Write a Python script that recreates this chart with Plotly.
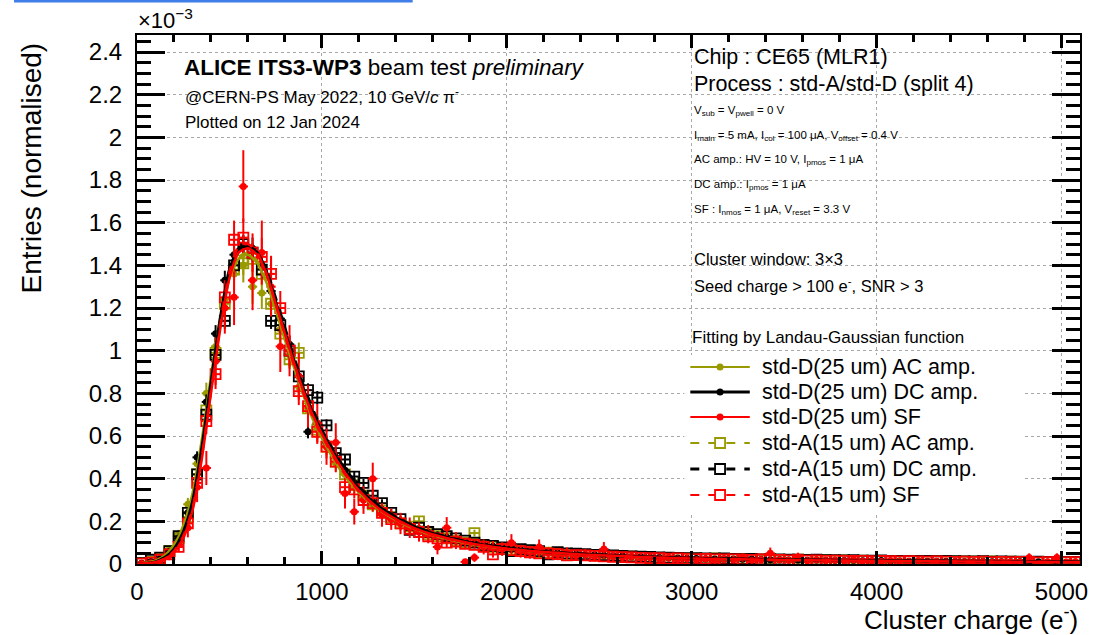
import plotly.graph_objects as go

# ---------------- data (y in units of 1e-3) ----------------
bin_centers = [
    25, 75, 125, 175, 225, 275, 325, 375, 425, 475,
    525, 575, 625, 675, 725, 775, 825, 875, 925, 975,
    1025, 1075, 1125, 1175, 1225, 1275, 1325, 1375, 1425, 1475,
    1525, 1575, 1625, 1675, 1725, 1775, 1825, 1875, 1925, 1975,
    2025, 2075, 2125, 2175, 2225, 2275, 2325, 2375, 2425, 2475,
    2525, 2575, 2625, 2675, 2725, 2775, 2825, 2875, 2925, 2975,
    3025, 3075, 3125, 3175, 3225, 3275, 3325, 3375, 3425, 3475,
    3525, 3575, 3625, 3675, 3725, 3775, 3825, 3875, 3925, 3975,
    4025, 4075, 4125, 4175, 4225, 4275, 4325, 4375, 4425, 4475,
    4525, 4575, 4625, 4675, 4725, 4775, 4825, 4875, 4925, 4975,
    5025, 5075]
bin_half_width = 25

stdD_AC = [
    0.004, 0.012, 0.030, 0.070, 0.14, 0.28, 0.47, 0.80, 1.02, 1.24,
    1.36, 1.40, 1.30, 1.27, 1.22, 1.10, 0.98, 0.83, 0.72, 0.63,
    0.55, 0.47, 0.42, 0.36, 0.31, 0.27, 0.24, 0.21, 0.185, 0.17,
    0.15, 0.14, 0.125, 0.115, 0.105, 0.097, 0.090, 0.083, 0.078, 0.072,
    0.067, 0.063, 0.058, 0.055, 0.052, 0.049, 0.046, 0.044, 0.042, 0.040,
    0.038, 0.036, 0.035, 0.033, 0.031, 0.030, 0.029, 0.027, 0.026, 0.025,
    0.024, 0.022, 0.024, 0.021, 0.020, 0.022, 0.019, 0.020, 0.018, 0.019,
    0.017, 0.018, 0.016, 0.017, 0.015, 0.016, 0.014, 0.015, 0.014, 0.013,
    0.014, 0.012, 0.013, 0.012, 0.013, 0.011, 0.012, 0.011, 0.010, 0.012,
    0.010, 0.011, 0.009, 0.010, 0.009, 0.010, 0.008, 0.009, 0.008, 0.009,
    0.008, 0.008]
stdD_DC = [
    0.003, 0.010, 0.025, 0.060, 0.12, 0.24, 0.50, 0.76, 1.08, 1.33,
    1.45, 1.49, 1.48, 1.40, 1.28, 1.15, 1.03, 0.88, 0.62, 0.66,
    0.57, 0.50, 0.44, 0.38, 0.33, 0.29, 0.255, 0.225, 0.20, 0.18,
    0.165, 0.148, 0.135, 0.125, 0.114, 0.105, 0.097, 0.090, 0.083, 0.078,
    0.072, 0.068, 0.064, 0.060, 0.056, 0.053, 0.050, 0.047, 0.045, 0.043,
    0.041, 0.039, 0.037, 0.035, 0.034, 0.032, 0.031, 0.030, 0.028, 0.027,
    0.026, 0.025, 0.024, 0.025, 0.023, 0.022, 0.023, 0.021, 0.020, 0.021,
    0.019, 0.019, 0.018, 0.019, 0.017, 0.017, 0.016, 0.017, 0.015, 0.015,
    0.016, 0.014, 0.014, 0.013, 0.014, 0.013, 0.012, 0.013, 0.012, 0.011,
    0.011, 0.012, 0.010, 0.011, 0.010, 0.010, 0.009, 0.010, 0.009, 0.009,
    0.008, 0.009]
stdD_SF = [
    0.002, 0.006, 0.015, 0.040, 0.09, 0.17, 0.36, 0.45, 0.95, 1.20,
    1.25, 1.77, 1.33, 1.46, 1.30, 1.02, 1.00, 0.88, 0.74, 0.66,
    0.55, 0.57, 0.33, 0.245, 0.30, 0.40, 0.23, 0.21, 0.19, 0.17,
    0.15, 0.14, 0.08, 0.17, 0.11, 0.01, 0.03, 0.08, 0.075, 0.07,
    0.10, 0.06, 0.055, 0.08, 0.05, 0.045, 0.05, 0.04, 0.045, 0.035,
    0.07, 0.035, 0.03, 0.035, 0.028, 0.03, 0.025, 0.03, 0.022, 0.025,
    0.02, 0.025, 0.018, 0.022, 0.02, 0.03, 0.018, 0.02, 0.05, 0.02,
    0.018, 0.033, 0.015, 0.02, 0.016, 0.018, 0.015, 0.02, 0.014, 0.015,
    0.012, 0.016, 0.013, 0.012, 0.015, 0.011, 0.013, 0.01, 0.012, 0.011,
    0.01, 0.012, 0.009, 0.011, 0.01, 0.009, 0.03, 0.002, 0.01, 0.03,
    0.008, 0.01]
stdA_AC = [
    0.004, 0.010, 0.025, 0.060, 0.12, 0.22, 0.42, 0.72, 0.99, 1.22,
    1.38, 1.41, 1.43, 1.36, 1.22, 1.08, 0.96, 0.99, 0.73, 0.63,
    0.55, 0.48, 0.42, 0.37, 0.32, 0.28, 0.25, 0.22, 0.19, 0.175,
    0.20, 0.14, 0.13, 0.12, 0.11, 0.10, 0.145, 0.085, 0.080, 0.073,
    0.068, 0.064, 0.060, 0.056, 0.053, 0.050, 0.047, 0.045, 0.043, 0.041,
    0.039, 0.037, 0.035, 0.034, 0.032, 0.031, 0.029, 0.028, 0.027, 0.026,
    0.025, 0.024, 0.026, 0.023, 0.022, 0.024, 0.021, 0.020, 0.022, 0.019,
    0.019, 0.020, 0.018, 0.017, 0.018, 0.016, 0.017, 0.015, 0.016, 0.015,
    0.014, 0.015, 0.013, 0.014, 0.013, 0.012, 0.014, 0.012, 0.011, 0.012,
    0.011, 0.010, 0.012, 0.010, 0.011, 0.009, 0.010, 0.009, 0.010, 0.009,
    0.009, 0.008]
stdA_DC = [
    0.004, 0.020, 0.030, 0.060, 0.13, 0.24, 0.42, 0.70, 0.98, 1.14,
    1.40, 1.50, 1.46, 1.38, 1.14, 1.12, 1.00, 0.88, 0.815, 0.78,
    0.65, 0.52, 0.49, 0.41, 0.38, 0.32, 0.285, 0.24, 0.21, 0.16,
    0.17, 0.15, 0.14, 0.13, 0.12, 0.11, 0.10, 0.090, 0.085, 0.078,
    0.060, 0.070, 0.065, 0.060, 0.045, 0.055, 0.050, 0.048, 0.046, 0.043,
    0.041, 0.040, 0.038, 0.036, 0.034, 0.033, 0.031, 0.030, 0.029, 0.028,
    0.027, 0.026, 0.025, 0.026, 0.024, 0.023, 0.024, 0.022, 0.021, 0.022,
    0.020, 0.020, 0.019, 0.020, 0.018, 0.018, 0.017, 0.018, 0.016, 0.016,
    0.017, 0.015, 0.015, 0.014, 0.015, 0.014, 0.013, 0.014, 0.013, 0.012,
    0.012, 0.013, 0.011, 0.012, 0.011, 0.011, 0.010, 0.011, 0.010, 0.010,
    0.009, 0.010]
stdA_SF = [
    0.002, 0.006, 0.020, 0.045, 0.08, 0.19, 0.38, 0.67, 0.89, 1.25,
    1.52, 1.53, 1.46, 1.44, 1.36, 1.20, 1.00, 0.81, 0.74, 0.62,
    0.55, 0.48, 0.36, 0.35, 0.30, 0.285, 0.24, 0.21, 0.19, 0.165,
    0.15, 0.13, 0.12, 0.10, 0.105, 0.095, 0.090, 0.080, 0.045, 0.070,
    0.065, 0.060, 0.055, 0.050, 0.050, 0.046, 0.040, 0.042, 0.040, 0.038,
    0.036, 0.034, 0.032, 0.031, 0.029, 0.028, 0.027, 0.025, 0.026, 0.024,
    0.023, 0.024, 0.022, 0.021, 0.022, 0.020, 0.019, 0.021, 0.018, 0.019,
    0.017, 0.018, 0.016, 0.017, 0.015, 0.016, 0.015, 0.014, 0.015, 0.013,
    0.014, 0.013, 0.012, 0.013, 0.012, 0.011, 0.012, 0.011, 0.010, 0.011,
    0.010, 0.011, 0.009, 0.010, 0.009, 0.010, 0.009, 0.008, 0.009, 0.008,
    0.008, 0.009]

err_stdD_AC = [
    0.003, 0.006, 0.01, 0.015, 0.02, 0.03, 0.04, 0.05, 0.06, 0.07,
    0.075, 0.08, 0.08, 0.075, 0.07, 0.065, 0.06, 0.055, 0.05, 0.045,
    0.04, 0.037, 0.034, 0.031, 0.029, 0.027, 0.025, 0.023, 0.021, 0.02,
    0.019, 0.018, 0.017, 0.016, 0.015, 0.014, 0.014, 0.013, 0.013, 0.012,
    0.012, 0.011, 0.011, 0.011, 0.01, 0.01, 0.01, 0.01, 0.009, 0.009,
    0.009, 0.009, 0.009, 0.008, 0.008, 0.008, 0.008, 0.008, 0.008, 0.008]
err_stdD_DC = [
    0.002, 0.004, 0.006, 0.01, 0.014, 0.02, 0.028, 0.035, 0.04, 0.045,
    0.05, 0.05, 0.05, 0.048, 0.045, 0.042, 0.04, 0.037, 0.031, 0.032,
    0.029, 0.027, 0.025, 0.023, 0.021, 0.02, 0.018, 0.017, 0.016, 0.015,
    0.014, 0.013, 0.013, 0.012, 0.012, 0.011, 0.011, 0.01, 0.01, 0.01,
    0.009, 0.009, 0.009, 0.008, 0.008, 0.008, 0.008, 0.007, 0.007, 0.007,
    0.007, 0.007, 0.007, 0.006, 0.006, 0.006, 0.006, 0.006, 0.006, 0.006]
err_stdD_SF = [
    0.004, 0.008, 0.013, 0.022, 0.034, 0.045, 0.07, 0.08, 0.11, 0.12,
    0.13, 0.17, 0.14, 0.15, 0.14, 0.12, 0.12, 0.11, 0.10, 0.09,
    0.085, 0.09, 0.07, 0.06, 0.065, 0.075, 0.055, 0.05, 0.05, 0.048,
    0.045, 0.043, 0.035, 0.05, 0.04, 0.01, 0.02, 0.035, 0.033, 0.032,
    0.04, 0.03, 0.03, 0.035, 0.028, 0.027, 0.028, 0.025, 0.026, 0.023,
    0.033, 0.023, 0.021, 0.023, 0.02, 0.021, 0.019, 0.021, 0.018, 0.019,
    0.017, 0.019, 0.016, 0.018, 0.017, 0.02, 0.016, 0.017, 0.027, 0.017,
    0.016, 0.02, 0.015, 0.017, 0.015, 0.016, 0.015, 0.017, 0.014, 0.015,
    0.013, 0.015, 0.014, 0.013, 0.015, 0.012, 0.013, 0.012, 0.013, 0.012,
    0.012, 0.013, 0.011, 0.012, 0.012, 0.011, 0.02, 0.005, 0.012, 0.02,
    0.01, 0.012]
err_stdA_AC = [
    0.003, 0.005, 0.008, 0.012, 0.018, 0.025, 0.033, 0.04, 0.045, 0.05,
    0.055, 0.055, 0.055, 0.055, 0.05, 0.048, 0.045, 0.048, 0.04, 0.037,
    0.035, 0.032, 0.03, 0.028, 0.026, 0.024, 0.022, 0.021, 0.02, 0.019,
    0.02, 0.017, 0.016, 0.015, 0.015, 0.014, 0.016, 0.013, 0.012, 0.012,
    0.012, 0.011, 0.011, 0.011, 0.01, 0.01, 0.01, 0.01, 0.009, 0.009,
    0.009, 0.009, 0.009, 0.008, 0.008, 0.008, 0.008, 0.008, 0.008, 0.008]
err_stdA_DC = [
    0.002, 0.005, 0.006, 0.009, 0.013, 0.018, 0.024, 0.03, 0.035, 0.038,
    0.042, 0.043, 0.043, 0.042, 0.038, 0.038, 0.036, 0.034, 0.032, 0.031,
    0.028, 0.025, 0.024, 0.022, 0.021, 0.019, 0.018, 0.017, 0.016, 0.014,
    0.014, 0.013, 0.013, 0.012, 0.012, 0.011, 0.011, 0.01, 0.01, 0.009,
    0.008, 0.009, 0.009, 0.008, 0.007, 0.008, 0.008, 0.007, 0.007, 0.007,
    0.007, 0.007, 0.007, 0.006, 0.006, 0.006, 0.006, 0.006, 0.006, 0.006]
err_stdA_SF = [
    0.003, 0.006, 0.01, 0.016, 0.022, 0.034, 0.048, 0.06, 0.07, 0.08,
    0.09, 0.09, 0.09, 0.088, 0.085, 0.08, 0.072, 0.065, 0.062, 0.057,
    0.054, 0.05, 0.043, 0.043, 0.04, 0.039, 0.036, 0.033, 0.032, 0.03,
    0.028, 0.026, 0.025, 0.023, 0.023, 0.022, 0.022, 0.02, 0.015, 0.019,
    0.018, 0.017, 0.017, 0.016, 0.016, 0.015, 0.014, 0.015, 0.014, 0.014,
    0.013, 0.013, 0.013, 0.012, 0.012, 0.012, 0.012, 0.011, 0.011, 0.011]

# Landau-Gaussian fit curves
fit_x = [0, 100, 150, 200, 250, 300, 350, 400, 450, 500, 550, 600, 650, 700,
         750, 800, 850, 900, 950, 1000, 1100, 1200, 1300, 1400, 1500, 1600,
         1800, 2000, 2200, 2400, 2600, 2800, 3000, 3500, 4000, 4500, 5100]
fit_stdD_AC = [0.0, 0.015, 0.04, 0.09, 0.18, 0.33, 0.58, 0.88, 1.15, 1.34, 1.43, 1.45, 1.41,
               1.32, 1.19, 1.05, 0.92, 0.79, 0.68, 0.59, 0.44, 0.335, 0.26, 0.205, 0.165,
               0.135, 0.095, 0.071, 0.055, 0.044, 0.036, 0.030, 0.026, 0.019, 0.015, 0.012, 0.009]
fit_stdD_DC = [0.0, 0.01, 0.03, 0.07, 0.15, 0.29, 0.54, 0.85, 1.15, 1.38, 1.48, 1.49, 1.46,
               1.37, 1.23, 1.09, 0.95, 0.82, 0.71, 0.62, 0.47, 0.355, 0.275, 0.218, 0.175,
               0.143, 0.100, 0.075, 0.058, 0.047, 0.038, 0.032, 0.027, 0.020, 0.016, 0.013, 0.010]
fit_stdD_SF = [0.0, 0.008, 0.025, 0.055, 0.12, 0.25, 0.49, 0.80, 1.10, 1.34, 1.46, 1.48, 1.45,
               1.36, 1.22, 1.08, 0.94, 0.81, 0.70, 0.61, 0.46, 0.345, 0.265, 0.21, 0.168,
               0.138, 0.097, 0.072, 0.056, 0.045, 0.037, 0.031, 0.026, 0.019, 0.015, 0.012, 0.009]
fit_stdA_AC = [0.0, 0.012, 0.035, 0.075, 0.16, 0.30, 0.55, 0.85, 1.13, 1.34, 1.44, 1.46, 1.42,
               1.33, 1.20, 1.06, 0.93, 0.80, 0.69, 0.60, 0.45, 0.34, 0.265, 0.21, 0.168,
               0.138, 0.097, 0.072, 0.056, 0.045, 0.037, 0.031, 0.026, 0.019, 0.015, 0.012, 0.009]
fit_stdA_DC = [0.0, 0.01, 0.03, 0.065, 0.14, 0.27, 0.51, 0.82, 1.12, 1.36, 1.47, 1.49, 1.46,
               1.38, 1.25, 1.11, 0.97, 0.84, 0.73, 0.63, 0.48, 0.365, 0.28, 0.222, 0.178,
               0.146, 0.102, 0.076, 0.059, 0.048, 0.039, 0.033, 0.028, 0.020, 0.016, 0.013, 0.010]
fit_stdA_SF = [0.0, 0.008, 0.025, 0.06, 0.13, 0.26, 0.50, 0.81, 1.12, 1.37, 1.49, 1.50, 1.46,
               1.36, 1.22, 1.07, 0.93, 0.80, 0.69, 0.60, 0.45, 0.34, 0.262, 0.207, 0.166,
               0.136, 0.096, 0.071, 0.055, 0.044, 0.036, 0.030, 0.025, 0.018, 0.014, 0.011, 0.008]

legend_labels = ["std-D(25 um) AC amp.", "std-D(25 um) DC amp.", "std-D(25 um) SF",
                 "std-A(15 um) AC amp.", "std-A(15 um) DC amp.", "std-A(15 um) SF"]

# ---------------- styles ----------------
OLIVE = "#999900"
BLACK = "#000000"
RED = "#ff0000"

series = [
    # values, errors, fit, colour, open marker?, dash, line width
    (stdD_AC, err_stdD_AC, fit_stdD_AC, OLIVE, False, "solid", 2.5),
    (stdD_DC, err_stdD_DC, fit_stdD_DC, BLACK, False, "solid", 3),
    (stdD_SF, err_stdD_SF, fit_stdD_SF, RED, False, "solid", 2.5),
    (stdA_AC, err_stdA_AC, fit_stdA_AC, OLIVE, True, "dash", 2.5),
    (stdA_DC, err_stdA_DC, fit_stdA_DC, BLACK, True, "dash", 2.5),
    (stdA_SF, err_stdA_SF, fit_stdA_SF, RED, True, "dash", 2.5),
]
draw_order = [0, 3, 1, 4, 2, 5]

fig = go.Figure()
for i in draw_order:
    vals, errs, fit, col, opn, dash, lw = series[i]
    fig.add_trace(go.Scatter(
        x=bin_centers, y=vals, mode="markers", name=legend_labels[i], showlegend=False,
        marker=dict(symbol="square-open" if opn else "circle",
                    size=10 if opn else 7, color=col,
                    line=dict(width=1.8 if opn else 0, color=col)),
        error_y=dict(type="data", array=errs, color=col, thickness=2, width=0),
        error_x=dict(type="constant", value=bin_half_width, color=col, thickness=2, width=0),
    ))
for i in draw_order:
    vals, errs, fit, col, opn, dash, lw = series[i]
    fig.add_trace(go.Scatter(
        x=fit_x, y=fit, mode="lines", name=legend_labels[i] + " fit",
        line=dict(color=col, width=lw, dash=dash, shape="spline", smoothing=0.6),
        showlegend=False, hoverinfo="skip"))

# ---------------- layout helpers (pixel -> paper) ----------------
L, R, T, B = 137, 1088, 35, 564
W = R - L
H = B - T


def px(xp):
    return (xp - L) / W


def py(yp):
    return (B - yp) / H


FONT = "Liberation Sans, Arial, Helvetica, sans-serif"

annotations = []


def txt(text, xp, yp, size, xanchor="left", yanchor="middle", angle=0):
    annotations.append(dict(text=text, x=px(xp), y=py(yp), xref="paper", yref="paper",
                            xanchor=xanchor, yanchor=yanchor, showarrow=False, textangle=angle,
                            font=dict(size=size, family=FONT, color="black")))


txt("×10<sup>−3</sup>", 136, 19, 22)
txt("<b>ALICE ITS3-WP3</b> beam test <i>preliminary</i>", 182, 67, 22.5)
txt("@CERN-PS May 2022, 10 GeV/<i>c</i> π<sup>-</sup>", 183, 96, 17)
txt("Plotted on 12 Jan 2024", 183, 122, 17)
txt("Chip : CE65 (MLR1)", 697, 57, 21.5)
txt("Process : std-A/std-D (split 4)", 697, 84, 21.5)
txt("V<sub>sub</sub> = V<sub>pwell</sub> = 0 V", 697, 111, 11.5)
txt("I<sub>main</sub> = 5 mA, I<sub>col</sub> = 100 μA, V<sub>offset</sub> = 0.4 V", 697, 136, 11.5)
txt("AC amp.: HV = 10 V, I<sub>pmos</sub> = 1 μA", 697, 160, 11.5)
txt("DC amp.: I<sub>pmos</sub> = 1 μA", 697, 185, 11.5)
txt("SF : I<sub>nmos</sub> = 1 μA, V<sub>reset</sub> = 3.3 V", 697, 210, 11.5)
txt("Cluster window: 3×3", 697, 259, 16.5)
txt("Seed charge > 100 e<sup>-</sup>, SNR > 3", 697, 285, 16.5)
txt("Fitting by Landau-Gaussian function", 695, 338, 17)
txt("Entries (normalised)", 31, 40, 28, yanchor="top", xanchor="center", angle=-90)
txt("Cluster charge (e<sup>-</sup>)", 1088, 619, 26, xanchor="right")

shapes = []
# blue strip at the very top of the page (part of the reference image)
shapes.append(dict(type="rect", xref="paper", yref="paper", x0=px(13), x1=px(415), y0=py(2.5), y1=py(0),
                   fillcolor="#3f7de8", line=dict(width=0), layer="above"))
# legend box (white, hides grid)
shapes.append(dict(type="rect", xref="paper", yref="paper", x0=px(689), x1=px(1032), y0=py(512), y1=py(355),
                   fillcolor="white", line=dict(width=0), layer="above"))

legend_rows = [367, 392, 417, 443, 469, 495]
for i, yrow in enumerate(legend_rows):
    vals, errs, fit, col, opn, dash, lw = series[i]
    shapes.append(dict(type="line", xref="paper", yref="paper", x0=px(695), x1=px(755), y0=py(yrow), y1=py(yrow),
                       line=dict(color=col, width=2 if col != BLACK else 3, dash=dash), layer="above"))
    if opn:
        shapes.append(dict(type="rect", xref="paper", yref="paper", xsizemode="pixel", ysizemode="pixel",
                           xanchor=px(725), yanchor=py(yrow), x0=-5, x1=5, y0=-5, y1=5,
                           fillcolor="white", line=dict(color=col, width=1.8), layer="above"))
    else:
        shapes.append(dict(type="circle", xref="paper", yref="paper", xsizemode="pixel", ysizemode="pixel",
                           xanchor=px(725), yanchor=py(yrow), x0=-3.5, x1=3.5, y0=-3.5, y1=3.5,
                           fillcolor=col, line=dict(color=col, width=0), layer="above"))
    txt(legend_labels[i], 765, yrow, 21.5)

fig.update_layout(
    width=1097, height=635,
    margin=dict(l=L, r=1097 - R, t=T, b=635 - B, pad=0),
    paper_bgcolor="white", plot_bgcolor="white",
    font=dict(family=FONT, color="black"),
    showlegend=False,
    annotations=annotations,
    shapes=shapes,
    xaxis=dict(range=[0, 5100], tick0=0, dtick=1000, ticks="inside", ticklen=13, tickwidth=2.5,
               tickcolor="black", showline=True, linecolor="black", linewidth=2, mirror="allticks",
               showgrid=True, gridcolor="#a8a8a8", griddash="dot", gridwidth=1, zeroline=False,
               tickfont=dict(size=24, family=FONT, color="black"), ticklabelstandoff=5,
               minor=dict(dtick=200, tick0=0, ticks="inside", ticklen=7, tickwidth=2.5,
                          tickcolor="black", showgrid=False)),
    yaxis=dict(range=[0, 2.48], tick0=0, dtick=0.2, ticks="inside", ticklen=28, tickwidth=2.5,
               tickcolor="black", showline=True, linecolor="black", linewidth=2, mirror="allticks",
               showgrid=True, gridcolor="#a8a8a8", griddash="dot", gridwidth=1, zeroline=False,
               tickfont=dict(size=24, family=FONT, color="black"), ticklabelstandoff=8,
               minor=dict(dtick=0.05, tick0=0, ticks="inside", ticklen=14, tickwidth=2.5,
                          tickcolor="black", showgrid=False)),
)

fig.write_html("out.html")
